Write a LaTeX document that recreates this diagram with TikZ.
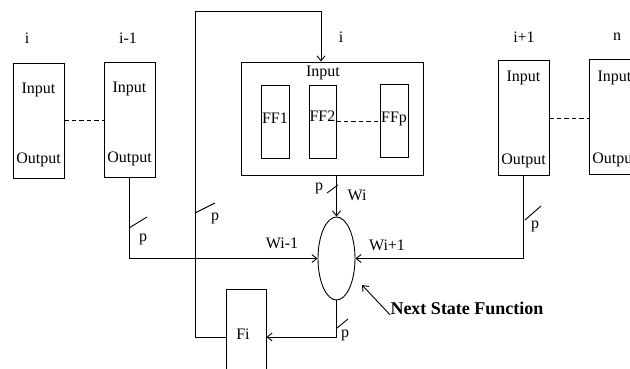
\documentclass[tikz,border=0pt]{standalone}
\usepackage{fontspec}
\setmainfont{Liberation Serif}
\usetikzlibrary{positioning,shapes.geometric,arrows.meta}

\begin{document}
\begin{tikzpicture}[x=1pt, y=-1pt, line width=0.9pt, >={Straight Barb[length=5pt,width=8pt]},
  cell/.style={draw, minimum width=51pt, minimum height=115pt, inner sep=0pt},
  ffcell/.style={draw, minimum width=28pt, minimum height=73pt, inner sep=0pt},
  gap/.style={dash pattern=on 4.5pt off 3pt},
  txt/.style={font=\fontsize{16}{18}\selectfont, inner sep=0pt}]
\useasboundingbox (0,0) rectangle (630,369);

% neighbour cells
\node[cell] (ci) at (38.5,120.5) {};
\node[txt] (ciin) at (38.5,90) {Input};
\node[txt] (ciout) at (38.5,160) {Output};
\node[txt] (cilab) at (27,38) {i};

\node[cell] (cim) at (129.5,119.5) {};
\node[txt] (cimin) at (129.5,89) {Input};
\node[txt] (cimout) at (129.5,159) {Output};
\node[txt] (cimlab) at (128,38) {i-1};

\node[cell] (cip) at (523.5,118) {};
\node[txt] (cipin) at (523.5,78) {Input};
\node[txt] (cipout) at (523.5,161) {Output};
\node[txt] (ciplab) at (524,37) {i+1};

\node[cell] (cn) at (614.5,116.5) {};
\node[txt] (cnin) at (614.5,78) {Input};
\node[txt] (cnout) at (614.5,160) {Output};
\node[txt] (cnlab) at (617,37) {n};

\draw[gap] (ci.east) -- (ci.east -| cim.west);
\draw[gap] (cip.east) -- (cip.east -| cn.west);

% cell i with its flip-flops
\node[draw, minimum width=182pt, minimum height=113pt] (cur) at (332,118.5) {};
\node[txt] (curin) at (323,73) {Input};
\node[txt] (curlab) at (341,37) {i};
\node[ffcell] (ff1) at (275,121.5) {};
\node[ffcell, minimum width=27pt] (ff2) at (322.5,121.5) {};
\node[ffcell] (ffp) at (394,120.5) {};
\node[txt] at (275,118) {FF1};
\node[txt] at (322.5,116) {FF2};
\node[txt] at (394,119) {FFp};
\draw[gap] (ff2.east) -- (ff2.east -| ffp.west);

% next state function and Fi
\node[draw, ellipse, minimum width=37pt, minimum height=83pt, inner sep=0pt] (nsf) at (336.5,258.5) {};
\node[draw, minimum width=40pt, minimum height=96pt] (fi) at (246,337) {};
\node[txt] at (243,334) {Fi};
\node[font=\fontsize{18}{20}\selectfont\bfseries, inner sep=0pt] (nsflab) at (467,308) {Next State Function};
\coordinate (nsfpt) at (362,285);
\draw[->] (nsflab.south west) -- (nsfpt);

\draw[->] (cur.south -| nsf) -- (nsf.north);
\draw[->] (cim.south) |- (nsf.west);
\draw[->] (cip.south) |- (nsf.east);
\draw[->] (nsf.south) |- (fi.east);

\coordinate (fb1) at (195,11);
\coordinate (fb2) at (321,11);
\draw[->] (fi.west) -| (fb1) -- (fb2) -- (fb2 |- cur.north);

% bus width marks
\draw (129,228) -- ++(18,-11);
\draw (195,213) -- ++(20,-10);
\draw (327,193) -- ++(11,-8);
\draw (337,328) -- ++(11,-9);
\draw (525,220) -- ++(16,-14);
\node[txt] at (143,239) {p};
\node[txt] at (215,218) {p};
\node[txt] at (319,188) {p};
\node[txt] at (345,335) {p};
\node[txt] at (535,226) {p};

\node[txt] at (357,195) {Wi};
\node[txt] at (282,243) {Wi-1};
\node[txt] at (387,245) {Wi+1};
\end{tikzpicture}
\end{document}
